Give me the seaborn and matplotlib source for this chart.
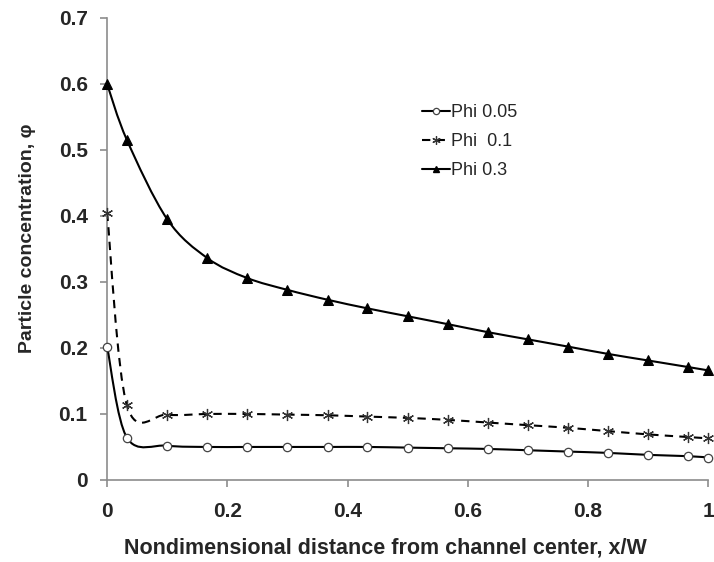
import numpy as np
import seaborn as sns
import matplotlib.pyplot as plt
from matplotlib.path import Path
from matplotlib.patches import PathPatch

# x positions of the data points (x/W)
x_pos = [0, 0.033, 0.1, 0.167, 0.233, 0.3, 0.367, 0.433, 0.5,
         0.567, 0.633, 0.7, 0.767, 0.833, 0.9, 0.967, 1.0]

phi_005 = [0.202, 0.064, 0.052, 0.050, 0.050, 0.050, 0.050, 0.050, 0.049,
           0.048, 0.047, 0.045, 0.043, 0.041, 0.038, 0.036, 0.034]
phi_01 = [0.405, 0.113, 0.099, 0.100, 0.100, 0.099, 0.098, 0.096, 0.094,
          0.091, 0.087, 0.083, 0.079, 0.074, 0.069, 0.065, 0.063]
phi_03 = [0.600, 0.515, 0.395, 0.336, 0.306, 0.288, 0.273, 0.260, 0.248,
          0.236, 0.224, 0.213, 0.202, 0.191, 0.181, 0.171, 0.166]

labels = ["Phi 0.05", "Phi  0.1", "Phi 0.3"]
x_ticks = [0, 0.2, 0.4, 0.6, 0.8, 1]
x_tick_labels = ["0", "0.2", "0.4", "0.6", "0.8", "1"]
y_ticks = [0, 0.1, 0.2, 0.3, 0.4, 0.5, 0.6, 0.7]
y_tick_labels = ["0", "0.1", "0.2", "0.3", "0.4", "0.5", "0.6", "0.7"]


def smooth_path(xs, ys):
    # Excel-style smoothed line: cubic bezier segments (Catmull-Rom control points)
    p = np.column_stack([xs, ys])
    n = len(p)
    verts = [p[0]]
    codes = [Path.MOVETO]
    for i in range(n - 1):
        p0 = p[i - 1] if i > 0 else p[i]
        p3 = p[i + 2] if i + 2 < n else p[i + 1]
        c1 = p[i] + (p[i + 1] - p0) / 6
        c2 = p[i + 1] - (p3 - p[i]) / 6
        verts += [c1, c2, p[i + 1]]
        codes += [Path.CURVE4] * 3
    return Path(verts, codes)


sns.set_style("white")
plt.rcParams['font.family'] = ['Liberation Sans', 'DejaVu Sans']

fig, ax = plt.subplots(figsize=(7.14, 5.62), dpi=100)
fig.subplots_adjust(left=0.15, right=0.992, top=0.968, bottom=0.146)

series = [
    (phi_005, dict(marker='o', markersize=6, markerfacecolor='white',
                   markeredgecolor='#444444', markeredgewidth=0.9), '-'),
    (phi_01, dict(marker=(6, 2, 0), markersize=8, markeredgecolor='#333333',
                  markeredgewidth=0.9), (0, (4, 3))),
    (phi_03, dict(marker='^', markersize=6.5, markerfacecolor='black',
                  markeredgecolor='black'), '-'),
]

for (ys, mk, ls), lab in zip(series, labels):
    # smooth line
    patch = PathPatch(smooth_path(x_pos, ys), facecolor='none', edgecolor='black',
                      linewidth=1.5, linestyle=ls, zorder=2)
    ax.add_patch(patch)
    # markers
    sns.lineplot(x=x_pos, y=ys, ax=ax, linestyle='none', color='black',
                 zorder=3, legend=False, clip_on=False, **mk)
    # legend proxy
    leg_mk = dict(mk)
    leg_mk['markersize'] = mk['markersize'] * 0.75
    ax.plot([], [], color='black', linewidth=1.5, linestyle=ls, label=lab, **leg_mk)

ax.set_xlim(0, 1)
ax.set_ylim(0, 0.7)
ax.set_xticks(x_ticks)
ax.set_xticklabels(x_tick_labels)
ax.set_yticks(y_ticks)
ax.set_yticklabels(y_tick_labels)
for t in ax.get_xticklabels() + ax.get_yticklabels():
    t.set_fontweight('bold')
    t.set_fontsize(15)

ax.set_xlabel("Nondimensional distance from channel center, x/W",
              fontsize=15.5, fontweight='bold')
ax.xaxis.set_label_coords(0.463, -0.124)
ax.set_ylabel("Particle concentration, φ", fontsize=14, fontweight='bold')
ax.yaxis.set_label_coords(-0.119, 0.524)

sns.despine(ax=ax)
for s in ['left', 'bottom']:
    ax.spines[s].set_color('#8c8c8c')
    ax.spines[s].set_linewidth(1.2)
    ax.spines[s].set_zorder(1)
ax.tick_params(axis='both', direction='out', length=5, width=1.2,
               color='#8c8c8c', left=True, bottom=True)
ax.tick_params(axis='x', pad=11)
ax.tick_params(axis='y', pad=9)

ax.legend(loc='upper left', bbox_to_anchor=(0.511, 0.829), frameon=False,
          fontsize=13, handlelength=1.55, handletextpad=0.1, labelspacing=0.67,
          borderaxespad=0)

fig.savefig("out.png", dpi=100)
